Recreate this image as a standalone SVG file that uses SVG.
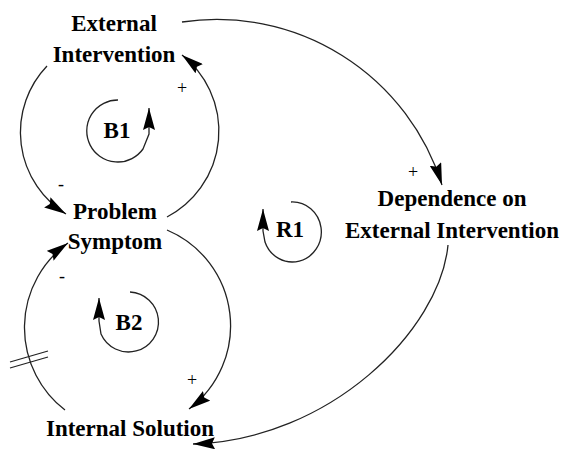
<svg xmlns="http://www.w3.org/2000/svg" width="563" height="450" viewBox="0 0 563 450">
<defs>
<style>
text{font-family:'Liberation Serif','DejaVu Serif',serif}
.lbl{font-weight:bold;font-size:23px;fill:#000;text-anchor:middle}
.pol{font-size:18px;fill:#000;text-anchor:middle}
.lnk{fill:none;stroke:#222;stroke-width:1.3;marker-end:url(#ah)}
.hash{fill:none;stroke:#222;stroke-width:1.3}
</style>
<marker id="ah" viewBox="0 0 22 12" refX="22" refY="6" markerWidth="22" markerHeight="12" markerUnits="userSpaceOnUse" orient="auto">
<path d="M0,0 L22,6 L0,12 L3,6 z" fill="#000"/>
</marker>
</defs>
<rect width="563" height="450" fill="#fff"/>
<g id="connectors">
<path class="lnk" d="M47,66 A96,96 0 0 0 66,214"/>
<path class="lnk" d="M167,217 A97,97 0 0 0 182,55"/>
<path class="lnk" d="M65,410 A104,104 0 0 1 68,243"/>
<path class="lnk" d="M167,230 A104,104 0 0 1 189,409"/>
<path class="lnk" d="M182,22 A236,236 0 0 1 442,185"/>
<path class="lnk" d="M448,245 C440,330 330,440 193,444"/>
<path class="hash" d="M10,362 L48,351 M10,368 L48,357"/>
<path class="lnk" d="M118,100 A31,31 0 1 0 143,149 L149,134 L149,108"/>
<path class="lnk" d="M130,292 A30,30 0 1 1 101,334 L99,321 L99,298"/>
<path class="lnk" d="M291,202 A29,30 0 1 1 265,242 L263,231 L263,209"/>
</g>
<g id="node-external-intervention">
<text class="lbl" x="114" y="31">External</text>
<text class="lbl" x="114" y="62">Intervention</text>
</g>
<g id="node-problem-symptom">
<text class="lbl" x="115" y="219">Problem</text>
<text class="lbl" x="115" y="249">Symptom</text>
</g>
<g id="node-internal-solution">
<text class="lbl" x="130" y="436">Internal Solution</text>
</g>
<g id="node-dependence">
<text class="lbl" x="452" y="206">Dependence on</text>
<text class="lbl" x="452" y="238">External Intervention</text>
</g>
<g id="loop-labels">
<text class="lbl" x="117" y="138">B1</text>
<text class="lbl" x="129" y="330">B2</text>
<text class="lbl" x="290" y="237">R1</text>
</g>
<g id="polarities">
<text class="pol" x="182" y="94">+</text>
<text class="pol" x="413" y="178">+</text>
<text class="pol" x="192" y="386">+</text>
<text class="pol" x="61" y="190">-</text>
<text class="pol" x="62" y="282">-</text>
</g>
</svg>
